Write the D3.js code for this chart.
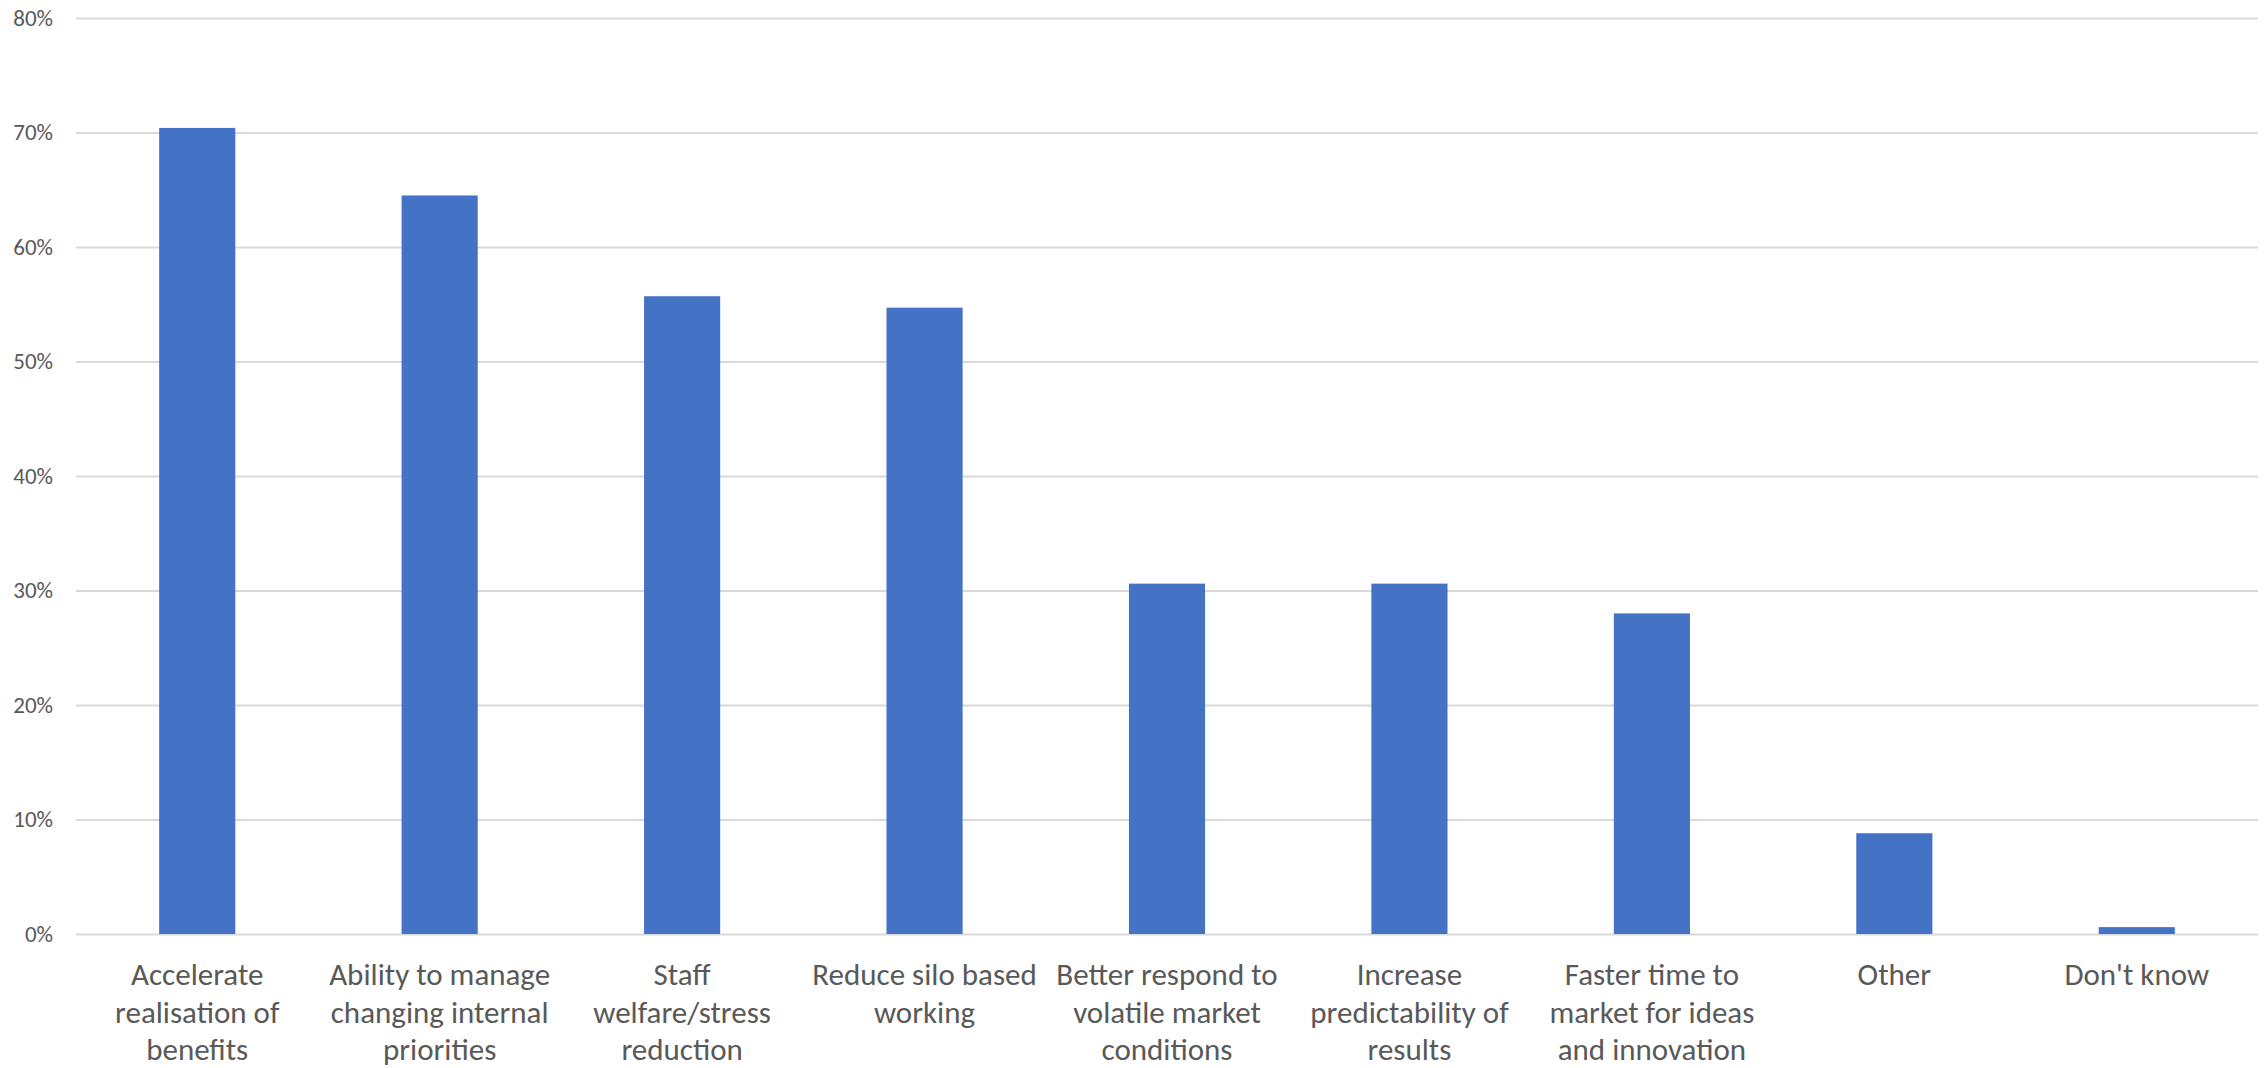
<!DOCTYPE html>
<html>
<head>
<meta charset="utf-8">
<script src="https://cdn.jsdelivr.net/npm/d3@7"></script>
<style>
  html, body { margin: 0; padding: 0; background: #fff; }
  svg { display: block; }
  text { font-family: Carlito, Calibri, Lato, "Open Sans", sans-serif; fill: #595959; }
</style>
</head>
<body>
<svg id="chart" width="2264" height="1068"></svg>
<script>
// Survey responses: perceived benefits (share of respondents)
const categories = [
  "Accelerate realisation of benefits",
  "Ability to manage changing internal priorities",
  "Staff welfare/stress reduction",
  "Reduce silo based working",
  "Better respond to volatile market conditions",
  "Increase predictability of results",
  "Faster time to market for ideas and innovation",
  "Other",
  "Don't know"
];
// Wrapped label lines for the category axis
const labelLines = [
  ["Accelerate", "realisation of", "benefits"],
  ["Ability to manage", "changing internal", "priorities"],
  ["Staff", "welfare/stress", "reduction"],
  ["Reduce silo based", "working"],
  ["Better respond to", "volatile market", "conditions"],
  ["Increase", "predictability of", "results"],
  ["Faster time to", "market for ideas", "and innovation"],
  ["Other"],
  ["Don't know"]
];
const values = [0.704, 0.645, 0.557, 0.547, 0.306, 0.306, 0.280, 0.088, 0.006];
const yTicks = [0, 0.1, 0.2, 0.3, 0.4, 0.5, 0.6, 0.7, 0.8];

const svg = d3.select("#chart");
const margin = { left: 76, right: 6, top: 18, bottom: 134 };
const W = 2264, H = 1068;

const x = d3.scaleBand()
  .domain(categories)
  .range([margin.left, W - margin.right])
  .paddingInner(0.686)
  .paddingOuter(0.343);

const y = d3.scaleLinear()
  .domain([0, 0.8])
  .range([H - margin.bottom, margin.top]);

// Horizontal gridlines with percentage labels
const yAxis = d3.axisLeft(y)
  .tickValues(yTicks)
  .tickFormat(d3.format(".0%"))
  .tickSize(-(W - margin.left - margin.right))
  .tickPadding(23);

const gy = svg.append("g")
  .attr("transform", `translate(${margin.left},0)`)
  .call(yAxis);
gy.select(".domain").remove();
gy.selectAll(".tick line").attr("stroke", "#D9D9D9").attr("stroke-width", 2);
gy.selectAll(".tick text")
  .attr("font-size", 23)
  .style("fill", "#595959");

// Bars
svg.append("g")
  .selectAll("rect")
  .data(values)
  .join("rect")
  .attr("x", (d, i) => x(categories[i]))
  .attr("width", x.bandwidth())
  .attr("y", d => y(d))
  .attr("height", d => y(0) - y(d))
  .attr("fill", "#4472C4");

// Category labels, centred under each bar
const labels = svg.append("g")
  .selectAll("text")
  .data(categories)
  .join("text")
  .attr("text-anchor", "middle")
  .attr("font-size", 31)
  .attr("x", d => x(d) + x.bandwidth() / 2)
  .attr("y", 985);

labels.each(function(d, i) {
  d3.select(this).selectAll("tspan")
    .data(labelLines[i])
    .join("tspan")
    .attr("x", x(d) + x.bandwidth() / 2)
    .attr("dy", (t, j) => j === 0 ? 0 : 37.5)
    .text(t => t);
});
</script>
</body>
</html>
